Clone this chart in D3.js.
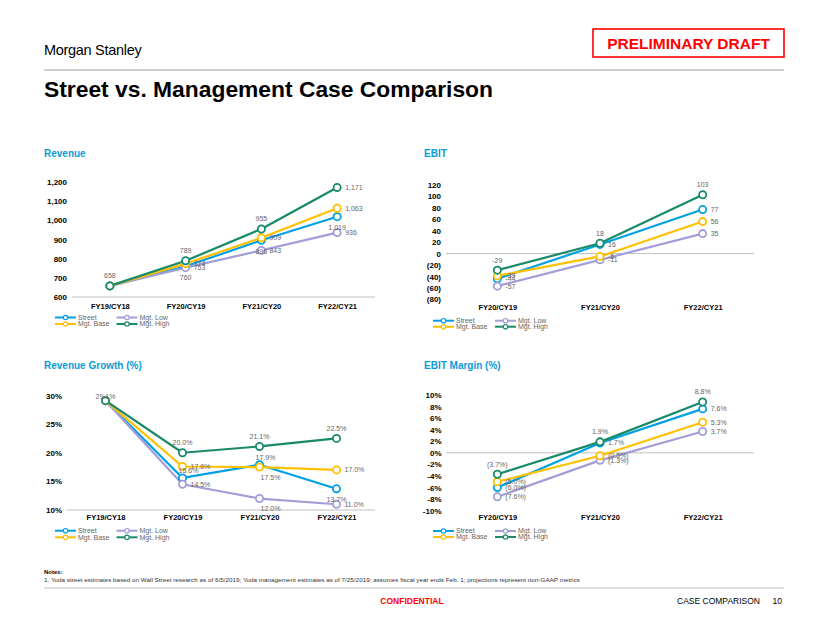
<!DOCTYPE html>
<html>
<head>
<meta charset="utf-8">
<script src="https://cdn.jsdelivr.net/npm/d3@7"></script>
<style>
  html, body { margin: 0; padding: 0; background: #fff; }
  svg { display: block; font-family: "Liberation Sans", Arial, sans-serif; }
</style>
</head>
<body>
<svg id="slide" width="822" height="635"></svg>
<script>
// ---------------- DATA ----------------
const seriesNames = ["Street", "Mgt. Low", "Mgt. Base", "Mgt. High"];

const revCategories = ["FY19/CY18", "FY20/CY19", "FY21/CY20", "FY22/CY21"];
const revStreet = [658, 760, 896, 1019];
const revLow    = [658, 753, 843, 936];
const revBase   = [658, 774, 909, 1063];
const revHigh   = [658, 789, 955, 1171];
const revTicks  = [600, 700, 800, 900, 1000, 1100, 1200];

const ebitCategories = ["FY20/CY19", "FY21/CY20", "FY22/CY21"];
const ebitStreet = [-44, 16, 77];
const ebitLow    = [-57, -11, 35];
const ebitBase   = [-39, -5, 56];
const ebitHigh   = [-29, 18, 103];
const ebitTicks  = [-80, -60, -40, -20, 0, 20, 40, 60, 80, 100, 120];

const growthCategories = ["FY19/CY18", "FY20/CY19", "FY21/CY20", "FY22/CY21"];
const growthStreet = [29.1, 15.6, 17.9, 13.7];
const growthLow    = [29.1, 14.5, 12.0, 11.0];
const growthBase   = [29.1, 17.6, 17.5, 17.0];
const growthHigh   = [29.1, 20.0, 21.1, 22.5];
const growthTicks  = [10, 15, 20, 25, 30];

const marginCategories = ["FY20/CY19", "FY21/CY20", "FY22/CY21"];
const marginStreet = [-6.0, 1.7, 7.6];
const marginLow    = [-7.6, -1.3, 3.7];
const marginBase   = [-5.0, -0.5, 5.3];
const marginHigh   = [-3.7, 1.9, 8.8];
const marginTicks  = [-10, -8, -6, -4, -2, 0, 2, 4, 6, 8, 10];

// label placement codes (per series, per point)
const revLabelPos    = [[null,'b','b','b'], [null,'r','r','r'], [null,'r','r','r'], ['a','a','a','r']];
const ebitLabelPos   = [['r','r','r'], ['r','r','r'], ['r','r','r'], ['a','a','a']];
const growthLabelPos = [[null,'ar','ar','b'], [null,'r','br','r'], [null,'r','br','r'], ['ac','a','a','a']];
const marginLabelPos = [['r','r','r'], ['r','r','r'], ['r','r','r'], ['a','a','a']];

// ---------------- STYLE ----------------
const colors = ["#00a0e3", "#a29ed8", "#ffc000", "#188a6a"];
const placements = {
  a:  [0, -10, "middle"],
  ac: [0, -4, "middle"],
  b:  [0, 11, "middle"],
  r:  [8, 0, "start"],
  ar: [6, -7, "middle"],
  br: [11, 10, "middle"]
};
const gridGrey = "#bfbfbf";
const labelGrey = "#666666";

const svg = d3.select("#slide");

// ---------------- HEADER ----------------
svg.append("text").attr("x", 44).attr("y", 55)
  .attr("font-family", "'Liberation Sans Narrow', 'Liberation Sans', Arial")
  .attr("font-size", 14.5).attr("fill", "#000").attr("letter-spacing", -0.3)
  .text("Morgan Stanley");

svg.append("rect").attr("x", 593).attr("y", 29).attr("width", 191).attr("height", 28)
  .attr("fill", "none").attr("stroke", "#ff0000").attr("stroke-width", 1.6);
svg.append("text").attr("x", 688.5).attr("y", 48.5).attr("text-anchor", "middle")
  .attr("font-size", 15.5).attr("font-weight", "bold").attr("fill", "#ff0000")
  .text("PRELIMINARY DRAFT");

svg.append("line").attr("x1", 44).attr("x2", 784).attr("y1", 70).attr("y2", 70)
  .attr("stroke", gridGrey).attr("stroke-width", 1.5);

svg.append("text").attr("x", 44).attr("y", 97)
  .attr("font-size", 22).attr("font-weight", "bold").attr("fill", "#000")
  .attr("textLength", 449).attr("lengthAdjust", "spacingAndGlyphs")
  .text("Street vs. Management Case Comparison");

// ---------------- CHART FUNCTION ----------------
function drawChart(cfg) {
  const g = svg.append("g");
  g.append("text").attr("x", cfg.titleX).attr("y", cfg.titleY)
    .attr("font-size", 10).attr("font-weight", "bold").attr("fill", "#0a9bd8")
    .text(cfg.title);

  const x = d3.scalePoint().domain(cfg.categories).range(cfg.xRange).padding(0.5);
  const y = d3.scaleLinear().domain(cfg.yDomain).range(cfg.yRange);

  // y axis labels
  const yAxis = d3.axisLeft(y).tickValues(cfg.ticks).tickFormat(cfg.tickFormat).tickSize(0).tickPadding(0);
  const ya = g.append("g").attr("transform", `translate(${cfg.labelRight},0)`).call(yAxis);
  ya.select(".domain").remove();
  ya.selectAll("text").attr("font-size", 8).attr("font-weight", "bold").attr("fill", "#000")
    .attr("font-family", "'Liberation Sans', Arial");

  // baseline (zero or min)
  g.append("line").attr("x1", cfg.xRange[0]).attr("x2", cfg.xRange[1])
    .attr("y1", y(cfg.baseline)).attr("y2", y(cfg.baseline))
    .attr("stroke", gridGrey).attr("stroke-width", 1);

  // x category labels
  const xAxis = d3.axisBottom(x).tickSize(0).tickPadding(0);
  const xa = g.append("g").attr("transform", `translate(0,${cfg.catY})`).call(xAxis);
  xa.select(".domain").remove();
  xa.selectAll("text").attr("font-size", 7.5).attr("font-weight", "bold").attr("fill", "#000")
    .attr("dy", "0.35em").attr("font-family", "'Liberation Sans', Arial");

  const line = d3.line().x((d, i) => x(cfg.categories[i])).y(d => y(d));

  cfg.series.forEach((vals, si) => {
    g.append("path").datum(vals).attr("d", line)
      .attr("fill", "none").attr("stroke", colors[si]).attr("stroke-width", 2.2)
      .attr("stroke-linejoin", "round");
  });
  cfg.series.forEach((vals, si) => {
    g.selectAll(null).data(vals).enter().append("circle")
      .attr("cx", (d, i) => x(cfg.categories[i])).attr("cy", d => y(d))
      .attr("r", 3.6).attr("fill", "#fff").attr("stroke", colors[si]).attr("stroke-width", 1.8);
  });
  // data labels
  cfg.series.forEach((vals, si) => {
    vals.forEach((v, i) => {
      const code = cfg.labelPos[si][i];
      if (!code) return;
      const p = placements[code];
      g.append("text")
        .attr("x", x(cfg.categories[i]) + p[0]).attr("y", y(v) + p[1])
        .attr("dy", "0.35em").attr("text-anchor", p[2])
        .attr("font-size", 7).attr("fill", labelGrey)
        .text(cfg.labelFormat(v));
    });
  });

  // legend
  const lg = g.append("g");
  const cols = cfg.legendCols, rows = cfg.legendRows;
  seriesNames.forEach((name, si) => {
    const cx = cols[si % 2], cy = rows[Math.floor(si / 2)];
    lg.append("line").attr("x1", cx).attr("x2", cx + 21).attr("y1", cy).attr("y2", cy)
      .attr("stroke", colors[si]).attr("stroke-width", 2);
    lg.append("circle").attr("cx", cx + 10.5).attr("cy", cy).attr("r", 2.2)
      .attr("fill", "#fff").attr("stroke", colors[si]).attr("stroke-width", 1.2);
    lg.append("text").attr("x", cx + 23).attr("y", cy).attr("dy", "0.35em")
      .attr("font-size", 7).attr("fill", labelGrey).text(name);
  });
}

const fmtComma = d3.format(",");
const fmtParen = v => v < 0 ? `(${Math.abs(v)})` : `${v}`;
const fmtPct0 = v => `${v}%`;
const fmtPct1 = v => `${v.toFixed(1)}%`;
const fmtPctParen = v => v < 0 ? `(${Math.abs(v).toFixed(1)}%)` : `${v.toFixed(1)}%`;

drawChart({
  title: "Revenue", titleX: 44, titleY: 157,
  categories: revCategories,
  series: [revStreet, revLow, revBase, revHigh],
  labelPos: revLabelPos,
  xRange: [72, 375], yDomain: [600, 1200], yRange: [297, 182],
  ticks: revTicks, tickFormat: fmtComma, labelFormat: fmtComma,
  labelRight: 67, baseline: 600, catY: 306,
  legendCols: [55, 116.5], legendRows: [317.5, 324]
});

drawChart({
  title: "EBIT", titleX: 424, titleY: 157,
  categories: ebitCategories,
  series: [ebitStreet, ebitLow, ebitBase, ebitHigh],
  labelPos: ebitLabelPos,
  xRange: [446, 754], yDomain: [-80, 120], yRange: [299.3, 185],
  ticks: ebitTicks, tickFormat: fmtParen, labelFormat: v => `${v}`,
  labelRight: 441, baseline: 0, catY: 307,
  legendCols: [433, 495], legendRows: [320.7, 326.7]
});

drawChart({
  title: "Revenue Growth (%)", titleX: 44, titleY: 369,
  categories: growthCategories,
  series: [growthStreet, growthLow, growthBase, growthHigh],
  labelPos: growthLabelPos,
  xRange: [67, 375], yDomain: [10, 30], yRange: [510, 395.5],
  ticks: growthTicks, tickFormat: fmtPct0, labelFormat: fmtPct1,
  labelRight: 62, baseline: 10, catY: 517,
  legendCols: [55, 116.5], legendRows: [530.7, 537.3]
});

drawChart({
  title: "EBIT Margin (%)", titleX: 424, titleY: 369,
  categories: marginCategories,
  series: [marginStreet, marginLow, marginBase, marginHigh],
  labelPos: marginLabelPos,
  xRange: [446, 754], yDomain: [-10, 10], yRange: [510.7, 395],
  ticks: marginTicks, tickFormat: fmtPct0, labelFormat: fmtPctParen,
  labelRight: 441.5, baseline: 0, catY: 517,
  legendCols: [433, 495], legendRows: [531, 537]
});

// ---------------- FOOTER ----------------
svg.append("text").attr("x", 44).attr("y", 574).attr("font-size", 6).attr("font-weight", "bold")
  .attr("fill", "#000").text("Notes:");
svg.append("text").attr("x", 44).attr("y", 582).attr("font-size", 5.6).attr("fill", "#333")
  .attr("textLength", 536).attr("lengthAdjust", "spacingAndGlyphs")
  .text("1.   Yoda street estimates based on Wall Street research as of 6/5/2019; Yoda management estimates as of 7/25/2019; assumes fiscal year ends Feb. 1; projections represent non-GAAP metrics");
svg.append("line").attr("x1", 44).attr("x2", 784).attr("y1", 588).attr("y2", 588)
  .attr("stroke", gridGrey).attr("stroke-width", 1.2);
svg.append("text").attr("x", 412).attr("y", 604).attr("text-anchor", "middle")
  .attr("font-size", 8.5).attr("font-weight", "bold").attr("fill", "#ff0000").text("CONFIDENTIAL");
svg.append("text").attr("x", 760).attr("y", 604).attr("text-anchor", "end")
  .attr("font-size", 8.5).attr("fill", "#000").text("CASE COMPARISON");
svg.append("text").attr("x", 782).attr("y", 604).attr("text-anchor", "end")
  .attr("font-size", 8.5).attr("fill", "#000").text("10");
</script>
</body>
</html>
